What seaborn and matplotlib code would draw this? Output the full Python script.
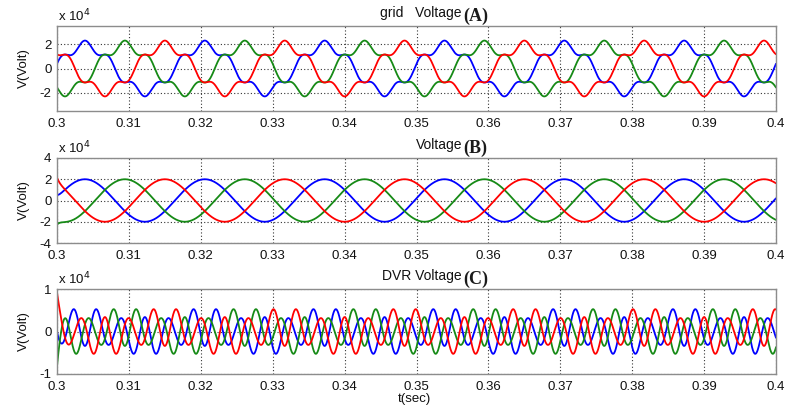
import numpy as np
import pandas as pd
import matplotlib
matplotlib.use("Agg")
import matplotlib.pyplot as plt
import seaborn as sns

# Waveform data (amplitudes in volts)
t_start, t_end = 0.3, 0.4
f_grid = 60.0                                   # fundamental, Hz
phase_offset_deg = 6                            # blue peaks slightly before 0.3042
phase_names = ["a", "b", "c"]                   # blue, green, red
phase_shift_deg = [0, -120, 120]
phase_colors = ["#0000ff", "#168a16", "#ff0000"]

# harmonic order / amplitude pairs for each panel
grid_orders = [1, 5]
grid_amps = [1.92e4, 0.38e4]
load_orders = [1]
load_amps = [2.0e4]
dvr_orders = [1, 5, 7]
dvr_amps = [0.12e4, -0.40e4, 0.06e4]

# start-up transient seen at t = 0.3 (extra volts per phase, decays quickly)
transient_tau = 0.0004
grid_kick = [0.0, 0.0, 0.0]
load_kick = [0.3e4, -0.45e4, 0.55e4]
dvr_kick = [0.15e4, -0.45e4, 0.4e4]

panel_titles = ["grid   Voltage", "Voltage", "DVR Voltage"]
panel_tags = ["(A)", "(B)", "(C)"]
panel_ylims = [(-3.5, 3.5), (-4, 4), (-1, 1)]
panel_yticks = [[-2, 0, 2], [-4, -2, 0, 2, 4], [-1, 0, 1]]
xticks = [0.3, 0.31, 0.32, 0.33, 0.34, 0.35, 0.36, 0.37, 0.38, 0.39, 0.4]
xtick_labels = ["0.3", "0.31", "0.32", "0.33", "0.34", "0.35", "0.36", "0.37", "0.38", "0.39", "0.4"]

t = np.linspace(t_start, t_end, 3001)


def build_frame(orders, amps, kicks):
    rows = []
    for name, sh, k in zip(phase_names, phase_shift_deg, kicks):
        theta = 2 * np.pi * f_grid * t + np.deg2rad(sh + phase_offset_deg)
        v = np.zeros_like(t)
        for n, a in zip(orders, amps):
            v += a * np.sin(n * theta)
        v += k * np.exp(-(t - t_start) / transient_tau)
        rows.append(pd.DataFrame({"t": t, "V": v / 1e4, "phase": name}))
    return pd.concat(rows, ignore_index=True)


frames = [build_frame(grid_orders, grid_amps, grid_kick),
          build_frame(load_orders, load_amps, load_kick),
          build_frame(dvr_orders, dvr_amps, dvr_kick)]

sns.set_style("white")
plt.rcParams["font.family"] = ["Liberation Sans", "DejaVu Sans"]
plt.rcParams["axes.unicode_minus"] = False

W, H = 787, 409
fig = plt.figure(figsize=(W / 100, H / 100), dpi=100)
fig.patch.set_facecolor("white")

# axes boxes in pixels: (left, top, right, bottom)
boxes = [(57, 26, 776, 111), (57, 158, 776, 243), (57, 289, 776, 374)]
txt = "#111111"

for i, (df, box) in enumerate(zip(frames, boxes)):
    l, tp, r, b = box
    ax = fig.add_axes([l / W, 1 - b / H, (r - l) / W, (b - tp) / H])
    sns.lineplot(data=df, x="t", y="V", hue="phase", hue_order=phase_names,
                 palette=phase_colors, estimator=None, sort=False,
                 linewidth=1.3, legend=False, ax=ax)
    ax.set_xlim(t_start, t_end)
    ax.set_ylim(*panel_ylims[i])
    ax.set_xticks(xticks)
    ax.set_xticklabels(xtick_labels)
    ax.set_yticks(panel_yticks[i])
    ax.set_yticklabels([str(v) for v in panel_yticks[i]])
    ax.tick_params(direction="in", length=3, width=0.8, labelsize=9.5,
                   colors=txt, pad=4)
    ax.tick_params(axis="x", pad=5)
    ax.grid(True, color="#333333", linestyle=(0, (1, 2)), linewidth=0.8)
    for sp in ax.spines.values():
        sp.set_color("#8c8c8c")
        sp.set_linewidth(1.0)
    ax.set_xlabel("")
    ax.set_ylabel("V(Volt)", fontsize=9.5, color=txt)
    ax.yaxis.set_label_coords(-(57 - 30) / (r - l), 0.5)

    hpx = b - tp
    ax.text(0.001, 1 + 2 / hpx, r"x 10$^{4}$", transform=ax.transAxes,
            fontsize=9.5, ha="left", va="bottom", color=txt)
    xsplit = (462 - l) / (r - l)
    ax.text(xsplit, 1 + 13 / hpx, panel_titles[i], transform=ax.transAxes,
            fontsize=10, ha="right", va="center", color=txt)
    ax.text(xsplit + 0.002, 1 + 10 / hpx, panel_tags[i], transform=ax.transAxes,
            fontsize=13, ha="left", va="center", fontweight="bold",
            family="Liberation Serif", color="#1a1a1a")

    if i == 2:
        ax.set_xlabel("t(sec)", fontsize=9.5, color=txt)
        ax.xaxis.set_label_coords((414 - l) / (r - l), -19 / hpx)

fig.savefig("out.png", dpi=100, facecolor="white")
